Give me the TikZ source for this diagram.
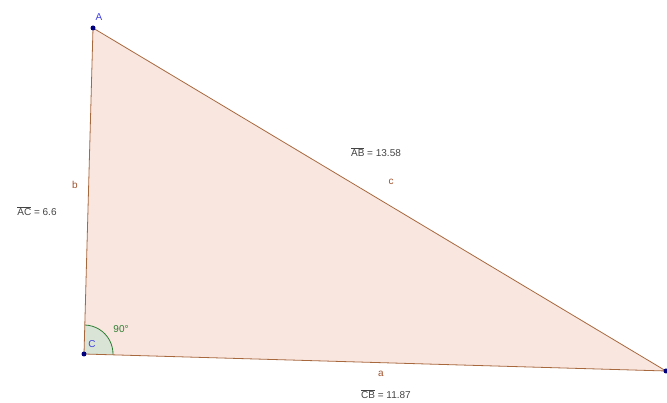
\documentclass[tikz,border=0pt]{standalone}
\usepackage{fontspec}
\setmainfont{Liberation Sans}
\usepackage{xcolor}
\usetikzlibrary{positioning}

\definecolor{triFill}{HTML}{F9E6DF}
\definecolor{triEdge}{HTML}{A8683E}
\definecolor{ptBlue}{HTML}{00007F}
\definecolor{lblBlue}{HTML}{4040E0}
\definecolor{sideRed}{HTML}{A0522D}
\definecolor{angGreen}{HTML}{2E7D32}
\definecolor{angFill}{HTML}{D9E4D6}
\definecolor{valGray}{HTML}{444444}

\begin{document}
\begin{tikzpicture}[
  x=1pt, y=1pt,
  every node/.style={font=\fontsize{10}{11}\selectfont, inner sep=1pt},
  pt/.style={circle, fill=ptBlue, inner sep=0pt, minimum size=5pt},
  ptlabel/.style={text=lblBlue},
  sidelabel/.style={text=sideRed},
  vallabel/.style={text=valGray}
]
\useasboundingbox (0,0) rectangle (667,403);

% vertices
\coordinate (A) at (93,375);
\coordinate (C) at (84,49);
\coordinate (B) at (666,32);

% triangle
\fill[triFill] (A) -- (B) -- (C) -- cycle;

% right angle at C
\fill[angFill] (C) -- ++(-1.7:29) arc[start angle=-1.7, end angle=88.4, radius=29] -- cycle;
\draw[angGreen, thick] (C) ++(-1.7:29) arc[start angle=-1.7, end angle=88.4, radius=29];

\draw[triEdge, thick] (A) -- (B) -- (C) -- cycle;

% points
\node[pt] (ptA) at (A) {};
\node[pt] (ptC) at (C) {};
\node[pt] (ptB) at (B) {};

\node[ptlabel] (labA) at (99,386) {A};
\node[ptlabel] (labC) at (92,59) {C};

% sides
\node[sidelabel] (labb) at (75,218) {b};
\node[sidelabel] (labc) at (391,221) {c};
\node[sidelabel] (laba) at (381,29) {a};

\node[vallabel] (valAC) at (37,192) {$\overline{\hbox{AC}}$ = 6.6};
\node[vallabel] (valAB) at (376,251) {$\overline{\hbox{AB}}$ = 13.58};
\node[vallabel] (valCB) at (386,9) {$\overline{\hbox{CB}}$ = 11.87};

\node[text=angGreen] (ang) at (121,74) {90°};
\end{tikzpicture}
\end{document}
